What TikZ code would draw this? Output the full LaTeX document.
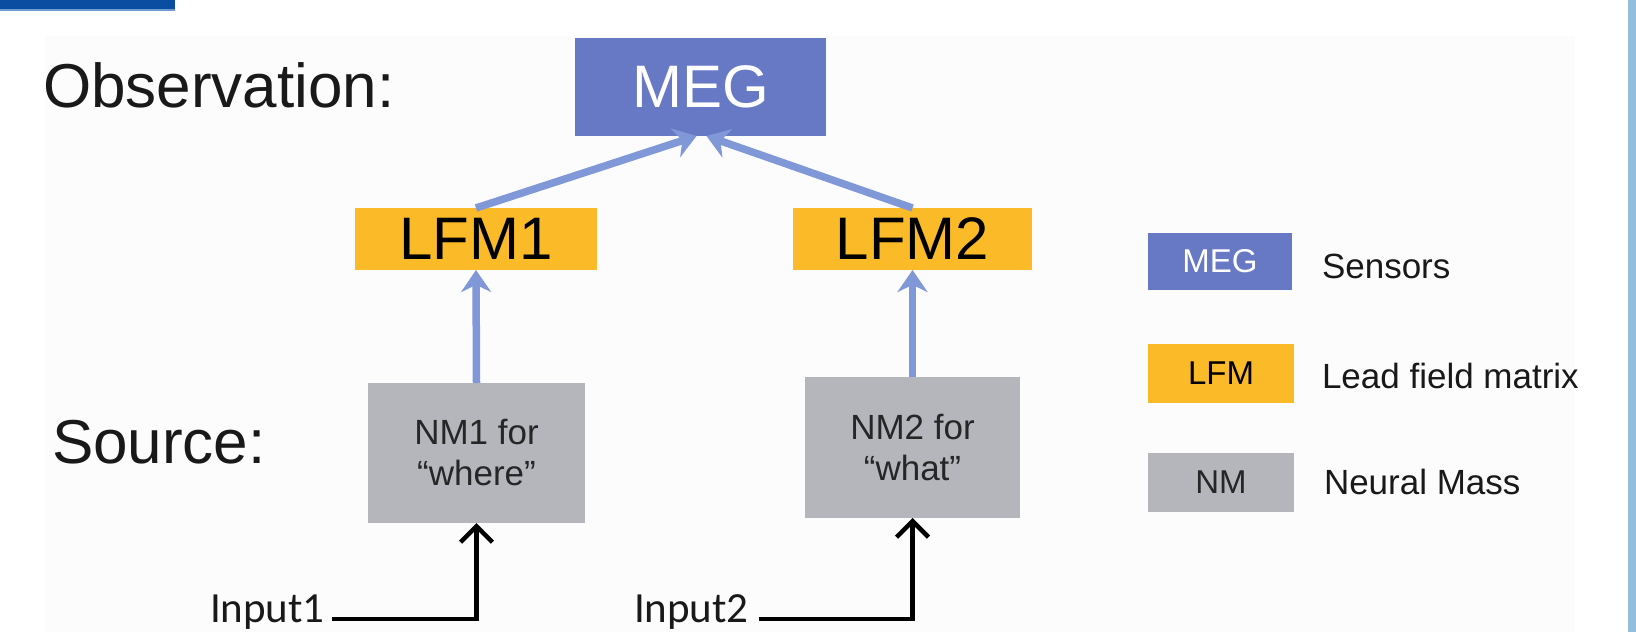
\documentclass[tikz,border=0pt]{standalone}
\usepackage{fontspec}
\setmainfont{Liberation Sans}
\newfontfamily\calibfont{Carlito}
\usetikzlibrary{arrows.meta}
\definecolor{megblue}{RGB}{103,120,197}
\definecolor{lfmorange}{RGB}{251,186,40}
\definecolor{nmgray}{RGB}{181,182,187}
\definecolor{arrowblue}{RGB}{128,152,216}
\definecolor{barblue}{RGB}{10,78,162}
\definecolor{barlight}{RGB}{110,155,208}
\definecolor{stripblue}{RGB}{148,190,221}
\definecolor{panelgray}{RGB}{252,252,252}
\begin{document}
\begin{tikzpicture}[x=1pt,y=-1pt,
  boxnode/.style={rectangle, inner sep=0pt, outer sep=0pt, align=center},
  megbox/.style={boxnode, fill=megblue, text=white},
  lfmbox/.style={boxnode, fill=lfmorange, text=black},
  nmbox/.style={boxnode, fill=nmgray, text=black!85},
  labeltext/.style={inner sep=0pt, outer sep=0pt, text=black!90},
  bluearrow/.style={draw=arrowblue, line width=7.5pt, -{Stealth[length=22pt, width=30pt]}},
  blackarrow/.style={draw=black, line width=4.5pt, -{Straight Barb[length=16pt, width=32pt]}}
]
\useasboundingbox (0,0) rectangle (1636,632);
\fill[white] (0,0) rectangle (1636,632);
\fill[panelgray] (45,36) rectangle (1575,632);
% decorations
\fill[barblue] (0,0) rectangle (175,9);
\fill[barlight] (0,9) rectangle (175,11);
\fill[stripblue] (1628,0) rectangle (1636,632);

% headings
\node[labeltext, anchor=base west] (obs) at (43,107) {\fontsize{62}{66}\selectfont Observation:};
\node[labeltext, anchor=base west] (src) at (52,463) {\fontsize{62}{66}\selectfont Source:};

% main boxes
\node[megbox, minimum width=251pt, minimum height=98pt, font=\fontsize{60}{62}\selectfont] (meg) at (700.5,87) {MEG};
\node[lfmbox, minimum width=242pt, minimum height=62pt, font=\fontsize{60}{62}\selectfont] (lfm1) at (476,239) {LFM1};
\node[lfmbox, minimum width=239pt, minimum height=62pt, font=\fontsize{60}{62}\selectfont] (lfm2) at (912.5,239) {LFM2};
\node[nmbox, minimum width=217pt, minimum height=140pt, font=\fontsize{35}{41}\selectfont] (nm1) at (476.5,453) {NM1 for\\ “where”};
\node[nmbox, minimum width=215pt, minimum height=141pt, font=\fontsize{35}{41}\selectfont] (nm2) at (912.5,447.5) {NM2 for\\ “what”};

% inputs
\node[labeltext, anchor=base west] (in1) at (210,622) {\calibfont\fontsize{43}{46}\selectfont Input1};
\node[labeltext, anchor=base west] (in2) at (634,622) {\calibfont\fontsize{43}{46}\selectfont Input2};

% blue arrows
\draw[bluearrow] (nm1.north) -- (lfm1.south);
\draw[bluearrow] (nm2.north) -- (lfm2.south);
\coordinate (megL) at ([xshift=-4pt]meg.south);
\coordinate (megR) at ([xshift=6pt]meg.south);
\draw[bluearrow] (lfm1.north) -- (megL);
\draw[bluearrow] (lfm2.north) -- (megR);

% black input arrows
\draw[blackarrow] ([xshift=7pt,yshift=3pt]in1.base east) -| (nm1.south);
\draw[blackarrow] ([xshift=10pt,yshift=3pt]in2.base east) -| (nm2.south);

% legend
\node[megbox, minimum width=144pt, minimum height=57pt, font=\fontsize{33}{36}\selectfont] (legmeg) at (1220,261.5) {MEG};
\node[lfmbox, minimum width=146pt, minimum height=59pt, font=\fontsize{33}{36}\selectfont] (leglfm) at (1221,373.5) {LFM};
\node[nmbox, minimum width=146pt, minimum height=59pt, font=\fontsize{33}{36}\selectfont] (legnm) at (1221,482.5) {NM};
\node[labeltext, anchor=west] (legmegt) at (1322,266) {\fontsize{35}{38}\selectfont Sensors};
\node[labeltext, anchor=west] (leglfmt) at (1322,376) {\fontsize{35}{38}\selectfont Lead field matrix};
\node[labeltext, anchor=west] (legnmt) at (1324,482) {\fontsize{35}{38}\selectfont Neural Mass};
\end{tikzpicture}
\end{document}
